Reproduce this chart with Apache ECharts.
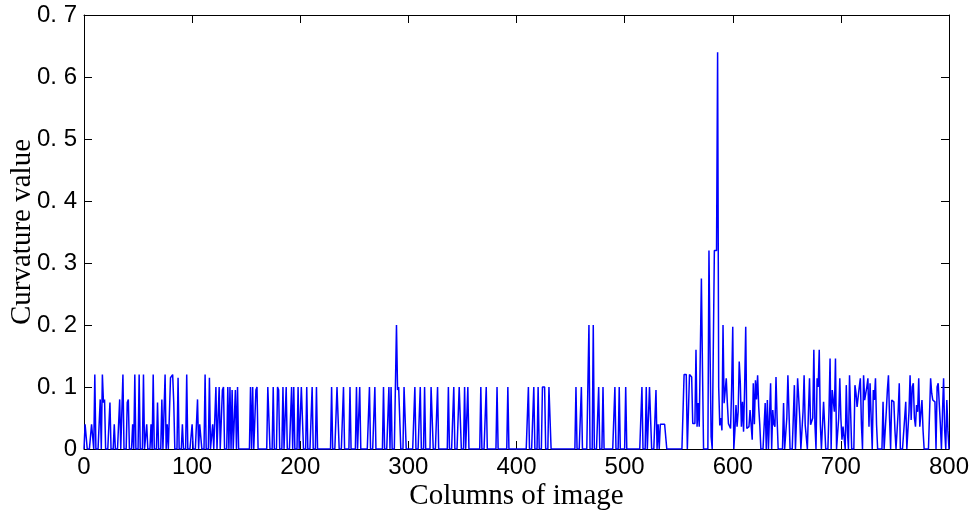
<!DOCTYPE html>
<html>
<head>
<meta charset="utf-8">
<script src="https://cdn.jsdelivr.net/npm/echarts@6/dist/echarts.min.js"></script>
<style>
html,body{margin:0;padding:0;background:#fff;}
#chart{width:972px;height:515px;}
</style>
</head>
<body>
<div id="chart"></div>
<script>
// Axis ticks
const xTicks = [0, 100, 200, 300, 400, 500, 600, 700, 800];
const yTicks = [0, 0.1, 0.2, 0.3, 0.4, 0.5, 0.6, 0.7];
const xTitle = 'Columns of image';
const yTitle = 'Curvature value';
const nColumns = 800;

// Non-zero curvature values: [column, value]; every other column is 0
const spikes0to200 = [[1,0.04],[2,0.04],[7,0.04],[8,0.04],[10,0.12],[15,0.08],[17,0.12],[18,0.075],[19,0.08],[24,0.075],[28,0.04],[33,0.08],[36,0.12],[40,0.075],[41,0.08],[45,0.04],[47,0.12],[51,0.12],[55,0.12],[58,0.04],[62,0.04],[64,0.12],[68,0.075],[72,0.08],[75,0.12],[77,0.04],[80,0.115],[81,0.115],[82,0.12],[83,0.075],[87,0.115],[91,0.04],[95,0.12],[100,0.04],[105,0.08],[107,0.04],[108,0.04],[112,0.12],[116,0.115],[119,0.04],[122,0.1],[125,0.1],[128,0.095],[129,0.1],[133,0.1],[135,0.1],[137,0.095],[140,0.095],[142,0.1],[154,0.1],[156,0.1],[159,0.095],[160,0.1],[170,0.1],[171,0.1],[175,0.1],[179,0.1],[180,0.095],[184,0.1],[187,0.1],[192,0.1],[194,0.1],[198,0.1]];
const spikes200to400 = [[201,0.1],[202,0.1],[206,0.1],[211,0.1],[215,0.1],[229,0.1],[234,0.1],[235,0.1],[240,0.1],[246,0.1],[252,0.1],[255,0.1],[264,0.1],[269,0.1],[277,0.1],[282,0.1],[284,0.1],[289,0.2],[290,0.095],[291,0.1],[292,0.1],[296,0.1],[297,0.1],[306,0.1],[311,0.1],[315,0.1],[321,0.1],[322,0.1],[327,0.1],[337,0.1],[342,0.1],[347,0.1],[348,0.1],[352,0.1],[355,0.1],[367,0.1],[372,0.1],[382,0.1],[392,0.1]];
const spikes400to554 = [[411,0.1],[416,0.1],[420,0.1],[424,0.1],[425,0.1],[426,0.1],[430,0.1],[431,0.1],[455,0.1],[460,0.1],[467,0.2],[471,0.2],[476,0.1],[480,0.1],[491,0.1],[495,0.1],[501,0.1],[516,0.1],[520,0.1],[523,0.1],[524,0.1],[529,0.095],[531,0.04],[533,0.04],[534,0.04],[535,0.04],[536,0.04],[537,0.04],[538,0.04]];
const spikes554to625 = [[555,0.12],[556,0.12],[557,0.12],[560,0.12],[561,0.118],[562,0.116],[563,0.041],[564,0.041],[565,0.041],[566,0.16],[567,0.036],[568,0.074],[569,0.036],[570,0.036],[571,0.275],[572,0.13],[578,0.32],[579,0.16],[580,0.02],[583,0.32],[584,0.32],[585,0.32],[586,0.64],[587,0.1],[588,0.038],[589,0.05],[590,0.03],[591,0.2],[592,0.074],[593,0.074],[594,0.114],[595,0.074],[596,0.041],[597,0.041],[598,0.033],[599,0.1],[600,0.197],[602,0.03],[603,0.071],[604,0.036],[605,0.06],[606,0.141],[607,0.106],[608,0.036],[609,0.076],[610,0.028],[611,0.1],[612,0.197],[613,0.033],[614,0.036],[615,0.036],[616,0.063],[617,0.063],[618,0.015],[619,0.106],[620,0.04],[621,0.111],[622,0.08],[623,0.119],[624,0.068]];
const spikes625to700 = [[625,0.039],[630,0.074],[632,0.079],[635,0.106],[637,0.063],[638,0.04],[639,0.036],[640,0.116],[641,0.05],[647,0.074],[650,0.05],[651,0.119],[652,0.06],[656,0.05],[657,0.103],[659,0.05],[660,0.114],[661,0.111],[662,0.05],[665,0.06],[666,0.119],[667,0.039],[668,0.039],[670,0.06],[671,0.114],[672,0.039],[673,0.039],[674,0.05],[675,0.16],[676,0.04],[678,0.114],[679,0.1],[680,0.16],[681,0.04],[684,0.076],[685,0.079],[689,0.06],[690,0.146],[692,0.095],[693,0.095],[694,0.06],[695,0.146],[698,0.05],[699,0.114]];
const spikes700to800 = [[700,0.05],[701,0.015],[702,0.036],[703,0.036],[705,0.103],[706,0.03],[708,0.119],[709,0.06],[713,0.103],[714,0.09],[715,0.068],[716,0.068],[717,0.1],[718,0.114],[719,0.04],[721,0.119],[722,0.079],[723,0.079],[724,0.1],[725,0.114],[726,0.036],[727,0.106],[728,0.05],[730,0.095],[731,0.079],[732,0.114],[733,0.039],[739,0.076],[742,0.06],[743,0.095],[744,0.119],[745,0.05],[747,0.079],[748,0.078],[749,0.076],[750,0.03],[753,0.06],[754,0.106],[759,0.05],[760,0.076],[763,0.06],[764,0.119],[765,0.047],[766,0.1],[767,0.106],[768,0.05],[769,0.036],[770,0.071],[771,0.06],[772,0.114],[773,0.036],[774,0.036],[775,0.079],[776,0.03],[783,0.114],[784,0.09],[785,0.079],[786,0.076],[787,0.076],[789,0.1],[790,0.106],[791,0.106],[792,0.04],[794,0.06],[795,0.114],[796,0.03],[798,0.079],[799,0.03]];

// Build the per-column series (baseline value 0 for columns without a spike)
const curvature = [];
for (let c = 0; c <= nColumns; c++) curvature.push(0);
[spikes0to200, spikes200to400, spikes400to554, spikes554to625, spikes625to700, spikes700to800]
  .forEach(list => list.forEach(([c, v]) => { curvature[c] = v; }));
const seriesData = curvature.map((v, c) => [c, v]);

const labelFont = "'Liberation Sans', Arial, sans-serif";
const titleFont = "'Liberation Serif', 'Times New Roman', serif";
const axisColor = '#000';

const fmtY = v => {
  const r = Math.round(v * 10) / 10;
  return r === 0 ? '0' : r.toFixed(1).replace('.', '. ');
};

const chart = echarts.init(document.getElementById('chart'), null, {renderer: 'canvas'});
chart.setOption({
  animation: false,
  backgroundColor: '#fff',
  grid: {left: 84, right: 23, top: 15, bottom: 66, show: false, containLabel: false, outerBoundsMode: 'none'},
  xAxis: [{
    type: 'value', min: xTicks[0], max: xTicks[xTicks.length - 1], interval: 100,
    position: 'bottom',
    name: xTitle, nameLocation: 'middle', nameGap: 47, nameMoveOverlap: false,
    nameTextStyle: {fontFamily: titleFont, fontSize: 29, color: '#000', verticalAlign: 'middle'},
    axisLine: {show: true, onZero: false, lineStyle: {color: axisColor, width: 1}},
    axisTick: {show: true, inside: true, length: 8, lineStyle: {color: axisColor, width: 1}},
    axisLabel: {show: true, fontFamily: labelFont, fontSize: 24, color: '#000', margin: 6},
    splitLine: {show: false}
  }, {
    type: 'value', min: xTicks[0], max: xTicks[xTicks.length - 1], interval: 100,
    position: 'top',
    axisLine: {show: true, onZero: false, lineStyle: {color: axisColor, width: 1}},
    axisTick: {show: true, inside: true, length: 8, lineStyle: {color: axisColor, width: 1}},
    axisLabel: {show: false},
    splitLine: {show: false}
  }],
  yAxis: [{
    type: 'value', min: yTicks[0], max: yTicks[yTicks.length - 1], interval: 0.1,
    position: 'left',
    name: yTitle, nameLocation: 'middle', nameGap: 62, nameRotate: 90, nameMoveOverlap: false,
    nameTextStyle: {fontFamily: titleFont, fontSize: 29, color: '#000', verticalAlign: 'middle'},
    axisLine: {show: true, onZero: false, lineStyle: {color: axisColor, width: 1}},
    axisTick: {show: true, inside: true, length: 8, lineStyle: {color: axisColor, width: 1}},
    axisLabel: {show: true, fontFamily: labelFont, fontSize: 24, color: '#000', margin: 7, formatter: fmtY},
    splitLine: {show: false}
  }, {
    type: 'value', min: yTicks[0], max: yTicks[yTicks.length - 1], interval: 0.1,
    position: 'right',
    axisLine: {show: true, onZero: false, lineStyle: {color: axisColor, width: 1}},
    axisTick: {show: true, inside: true, length: 8, lineStyle: {color: axisColor, width: 1}},
    axisLabel: {show: false},
    splitLine: {show: false}
  }],
  series: [{
    type: 'line',
    data: seriesData,
    xAxisIndex: 0, yAxisIndex: 0,
    showSymbol: false, symbol: 'none',
    lineStyle: {color: '#0000ff', width: 1.5},
    z: 1
  }]
});
</script>
</body>
</html>
